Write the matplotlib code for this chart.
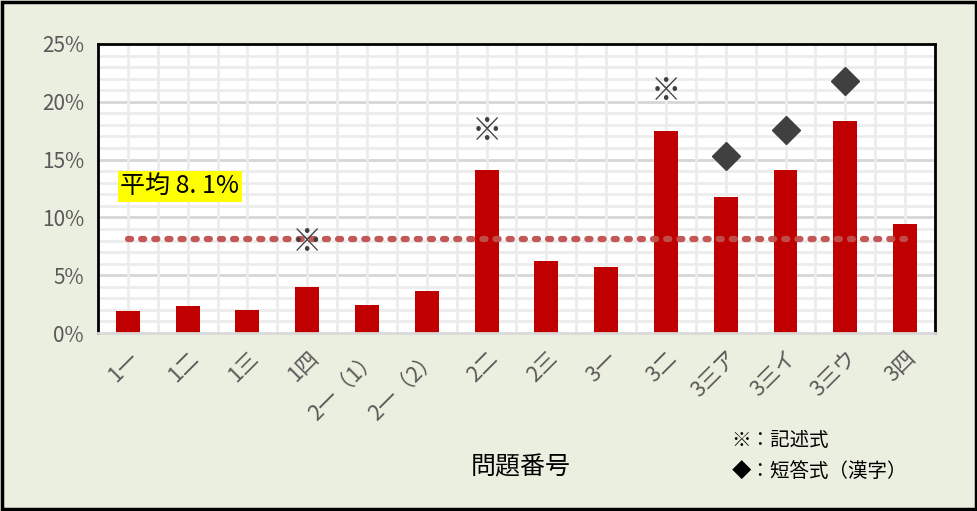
import matplotlib.pyplot as plt
import numpy as np
from matplotlib.patches import Rectangle

plt.rcParams['font.family'] = ['Noto Sans CJK JP', 'DejaVu Sans']

labels = ['1一', '1二', '1三', '1四', '2一（1）', '2一（2）', '2二', '2三',
          '3一', '3二', '3三ア', '3三イ', '3三ウ', '3四']
rates = [1.9, 2.3, 2.0, 4.0, 2.4, 3.6, 14.1, 6.2, 5.7, 17.5, 11.8, 14.1, 18.3, 9.4]
average = 8.1

# question-type marks: (category index, height in %)
kome_idx = [3, 6, 9]
kome_y = [7.9, 17.5, 21.0]
dia_idx = [10, 11, 12]
dia_y = [15.3, 17.6, 21.8]

bg = '#ebefdf'
fig = plt.figure(figsize=(9.78, 5.11), dpi=100, facecolor=bg)
fig.patches.append(Rectangle((0.002, 0.004), 0.996, 0.992, transform=fig.transFigure,
                             fill=False, edgecolor='black', lw=2.5))
ax = fig.add_axes([0.1002, 0.3483, 0.8558, 0.5656])
ax.set_facecolor('white')

x = np.arange(len(labels))
ax.set_xlim(-0.5, len(labels) - 0.5)
ax.set_ylim(0, 25)

# background grid
for yy in np.arange(1, 25):
    c = '#d6d6d6' if yy % 5 == 0 else '#ececec'
    ax.axhline(yy, color=c, lw=2, zorder=0)
for xx in np.arange(-0.5, len(labels), 0.5):
    ax.axvline(xx, color='#ececec', lw=2, zorder=0)

ax.bar(x, rates, width=0.4, color='#c00000', zorder=2)
ax.plot([0, len(labels) - 1], [average, average], color='#c0504d', lw=4.5,
        linestyle=(0, (0.5, 1.6)), dash_capstyle='round', zorder=3, alpha=0.95)

for i, yv in zip(kome_idx, kome_y):
    ax.text(i, yv, '※', ha='center', va='center', fontsize=22, color='#404040', zorder=4)
ax.plot(dia_idx, dia_y, 'D', color='#404040', markersize=14, zorder=4)

ax.text(-0.13, 12.7, '平均 8. 1%', fontsize=18, color='black', va='center',
        bbox=dict(boxstyle='square,pad=0.1', facecolor='yellow', edgecolor='none'), zorder=5)

ax.set_yticks(np.arange(0, 26, 5))
ax.set_yticklabels([f'{v}%' for v in range(0, 26, 5)], fontsize=15, color='#595959')
ax.set_xticks(x)
ax.set_xticklabels(labels, rotation=45, ha='right', rotation_mode='anchor',
                   fontsize=15.5, color='#595959')
ax.tick_params(length=0, pad=10)

for s in ['left', 'top', 'right']:
    ax.spines[s].set_color('black')
    ax.spines[s].set_linewidth(2)
ax.spines['bottom'].set_color('#d9d9d9')
ax.spines['bottom'].set_linewidth(2)

fig.text(0.532, 0.085, '問題番号', fontsize=18, ha='center', va='center', color='black')
fig.text(0.748, 0.138, '※：記述式', fontsize=14, va='center', color='black')
fig.text(0.748, 0.075, '◆：短答式（漢字）', fontsize=14, va='center', color='black')

fig.savefig('out.png', dpi=100, facecolor=bg)
